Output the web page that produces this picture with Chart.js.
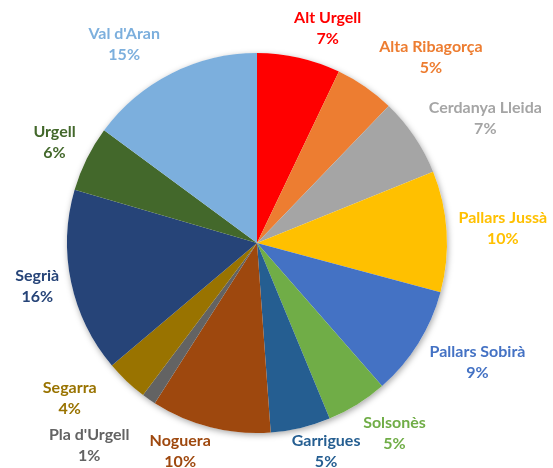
<!DOCTYPE html>
<html>
<head>
<meta charset="utf-8">
<script src="https://cdn.jsdelivr.net/npm/chart.js@4"></script>
<style>
  body { margin: 0; background: #fff; }
  #wrap { width: 553px; height: 468px; }
</style>
</head>
<body>
<div id="wrap"><canvas id="pieChart"></canvas></div>
<script>
// Comarques i pes de cadascuna (llegit del gràfic)
const categories = ['Alt Urgell', 'Alta Ribagorça', 'Cerdanya Lleida', 'Pallars Jussà', 'Pallars Sobirà', 'Solsonès', 'Garrigues', 'Noguera', "Pla d'Urgell", 'Segarra', 'Segrià', 'Urgell', "Val d'Aran"];
const values = [7.1, 5.1, 6.7, 10.3, 9.4, 5.2, 5.1, 10.2, 1.2, 3.6, 15.7, 5.6, 14.9];
const pctLabels = ['7%', '5%', '7%', '10%', '9%', '5%', '5%', '10%', '1%', '4%', '16%', '6%', '15%'];

const colors = ['#FF0000', '#ED7D31', '#A5A5A5', '#FFC000', '#4472C4', '#70AD47', '#255E91', '#9E480E', '#636363', '#997300', '#264478', '#43682B', '#7CAFDD'];

// ajust manual de les etiquetes: [graus, px]
const labelNudge = [[5.5, 8], [8.4, 16], [5.4, 12], [0, 11], [-3.5, 10], [-4, 12], [-5, 2], [6, 5], [5, 33], [7, 21], [0.7, 9], [0, 9], [-7, 14]];

const FONT = 'bold 16px Lato';

// ombra suau sota el pastís
const shadowPlugin = {
    id: 'pieShadow',
    beforeDatasetsDraw(chart) {
        const arc = chart.getDatasetMeta(0).data[0];
        if (!arc) return;
        const ctx = chart.ctx;
        ctx.save();
        ctx.shadowColor = 'rgba(0,0,0,0.35)';
        ctx.shadowBlur = 6;
        ctx.shadowOffsetX = 1;
        ctx.shadowOffsetY = 2;
        ctx.fillStyle = '#fff';
        ctx.beginPath();
        ctx.arc(arc.x, arc.y, arc.outerRadius, 0, Math.PI * 2);
        ctx.fill();
        ctx.restore();
    }
};

// etiquetes fora del pastís
const labelPlugin = {
    id: 'outLabels',
    afterDatasetsDraw(chart) {
        const ctx = chart.ctx;
        const meta = chart.getDatasetMeta(0);
        ctx.save();
        ctx.font = FONT;
        ctx.textAlign = 'center';
        ctx.textBaseline = 'middle';
        meta.data.forEach((arc, i) => {
            const nudge = labelNudge[i];
            const mid = (arc.startAngle + arc.endAngle) / 2 + nudge[0] * Math.PI / 180;
            const ux = Math.cos(mid), uy = Math.sin(mid);
            const w = Math.max(ctx.measureText(categories[i]).width, ctx.measureText(pctLabels[i]).width);
            const hh = 18;
            const dist = arc.outerRadius + nudge[1] + Math.abs(ux) * w / 2 + Math.abs(uy) * hh;
            const cx = arc.x + ux * dist;
            const cy = arc.y + uy * dist;
            ctx.fillStyle = colors[i];
            ctx.fillText(categories[i], cx, cy - 10.5);
            ctx.fillText(pctLabels[i], cx, cy + 10.5);
        });
        ctx.restore();
    }
};

const ctx = document.getElementById('pieChart').getContext('2d');
const pieChart = new Chart(ctx, {
    type: 'pie',
    data: {
        labels: categories,
        datasets: [{
            data: values,
            backgroundColor: colors,
            borderWidth: 0
        }]
    },
    options: {
        responsive: true,
        maintainAspectRatio: false,
        animation: false,
        layout: {
            padding: { left: 67, right: 106, top: 53, bottom: 35 }
        },
        plugins: {
            legend: { display: false },
            tooltip: { enabled: false }
        }
    },
    plugins: [shadowPlugin, labelPlugin]
});
</script>
</body>
</html>
